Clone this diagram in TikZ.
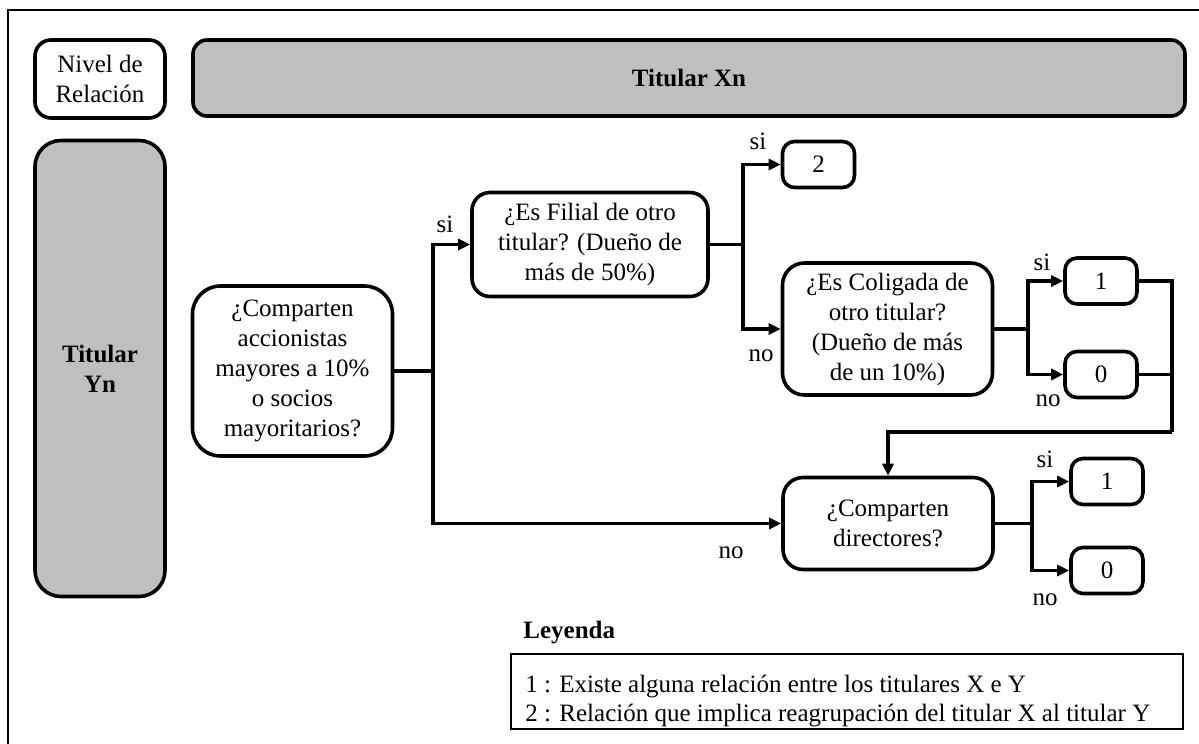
\documentclass[tikz,border=0pt]{standalone}
\usepackage{fontspec}
\setmainfont{Liberation Serif}
\usetikzlibrary{arrows.meta}
\definecolor{gris}{HTML}{BFBFBF}

\begin{document}
\begin{tikzpicture}[x=0.5pt, y=-0.5pt, font=\fontsize{12.5}{15}\selectfont,
  caja/.style={draw, line width=1.8pt, rounded corners=9pt, align=center, inner sep=0pt},
  num/.style={caja, rounded corners=6pt, minimum width=36pt, minimum height=23pt},
  flecha/.style={line width=1.7pt, -{Triangle[length=6pt, width=5.5pt]}},
  linea/.style={line width=1.7pt},
  etiq/.style={inner sep=0pt}]
\useasboundingbox (0,0) rectangle (1199,744);
% 外框
\draw[line width=0.8pt] (1199,10) -- (8,10) -- (8,744);

% 表头
\node[caja, rounded corners=8pt, minimum width=65pt, minimum height=39pt] (nivel) at (100,79) {Nivel de\\Relación};
\node[caja, fill=gris, rounded corners=7pt, minimum width=496pt, minimum height=38pt] (xn) at (689,78) {\textbf{Titular Xn}};
\node[caja, fill=gris, rounded corners=13pt, minimum width=65pt, minimum height=228pt] (yn) at (100,368.5) {\textbf{Titular}\\\textbf{Yn}};

% 问题框
\node[caja, rounded corners=14pt, minimum width=100pt, minimum height=85pt] (acc) at (292.5,371) {¿Comparten\\accionistas\\mayores a 10\%\\o socios\\mayoritarios?};
\node[caja, minimum width=118pt, minimum height=52pt] (filial) at (590,244.5) {¿Es Filial de otro\\titular? (Dueño de\\más de 50\%)};
\node[caja, rounded corners=11pt, minimum width=105pt, minimum height=66pt] (colig) at (887.5,329) {¿Es Coligada de\\otro titular?\\(Dueño de más\\de un 10\%)};
\node[caja, rounded corners=10pt, minimum width=105pt, minimum height=46pt] (dir) at (888,523.5) {¿Comparten\\directores?};

% 结果
\node[num] (dos) at (818.5,164.5) {2};
\node[num] (unoA) at (1101,281) {1};
\node[num] (ceroA) at (1101,374.5) {0};
\node[num] (unoB) at (1107,481.5) {1};
\node[num] (ceroB) at (1107,570.5) {0};

% 连线
\coordinate (b1) at (433,371);
\coordinate (b2) at (743,244.5);
\coordinate (b3) at (1028,329);
\coordinate (b4) at (1032,523.5);
\coordinate (c1) at (1172,432);
\draw[linea] (acc.east) -- (b1);
\draw[flecha] (b1) |- (filial.west);
\draw[flecha] (b1) |- (dir.west);
\draw[linea] (filial.east) -- (b2);
\draw[flecha] (b2) |- (dos.west);
\draw[flecha] (b2) |- (colig.west);
\draw[linea] (colig.east) -- (b3);
\draw[flecha] (b3) |- (unoA.west);
\draw[flecha] (b3) |- (ceroA.west);
\draw[linea] (unoA.east) -| (c1);
\draw[linea] (ceroA.east) -- (ceroA.east -| c1);
\draw[flecha] (c1) -| (dir.north);
\draw[linea] (dir.east) -- (b4);
\draw[flecha] (b4) |- (unoB.west);
\draw[flecha] (b4) |- (ceroB.west);

% si / no
\node[etiq] (si1) at (445,224) {si};
\node[etiq] (si2) at (758,141) {si};
\node[etiq] (no1) at (761,356) {no};
\node[etiq] (si3) at (1042,262) {si};
\node[etiq] (no3) at (1048,401) {no};
\node[etiq] (no2) at (731,553) {no};
\node[etiq] (si4) at (1045,459) {si};
\node[etiq] (no4) at (1045,600) {no};

% 图例
\node[etiq, anchor=west] (leyenda) at (523,633) {\textbf{Leyenda}};
\draw[line width=0.8pt] (511,654) rectangle (1183,729);
\node[etiq, anchor=west] (ley1) at (525,686) {1 : Existe alguna relación entre los titulares X e Y};
\node[etiq, anchor=west] (ley2) at (525,715) {2 : Relación que implica reagrupación del titular X al titular Y};
\end{tikzpicture}
\end{document}
